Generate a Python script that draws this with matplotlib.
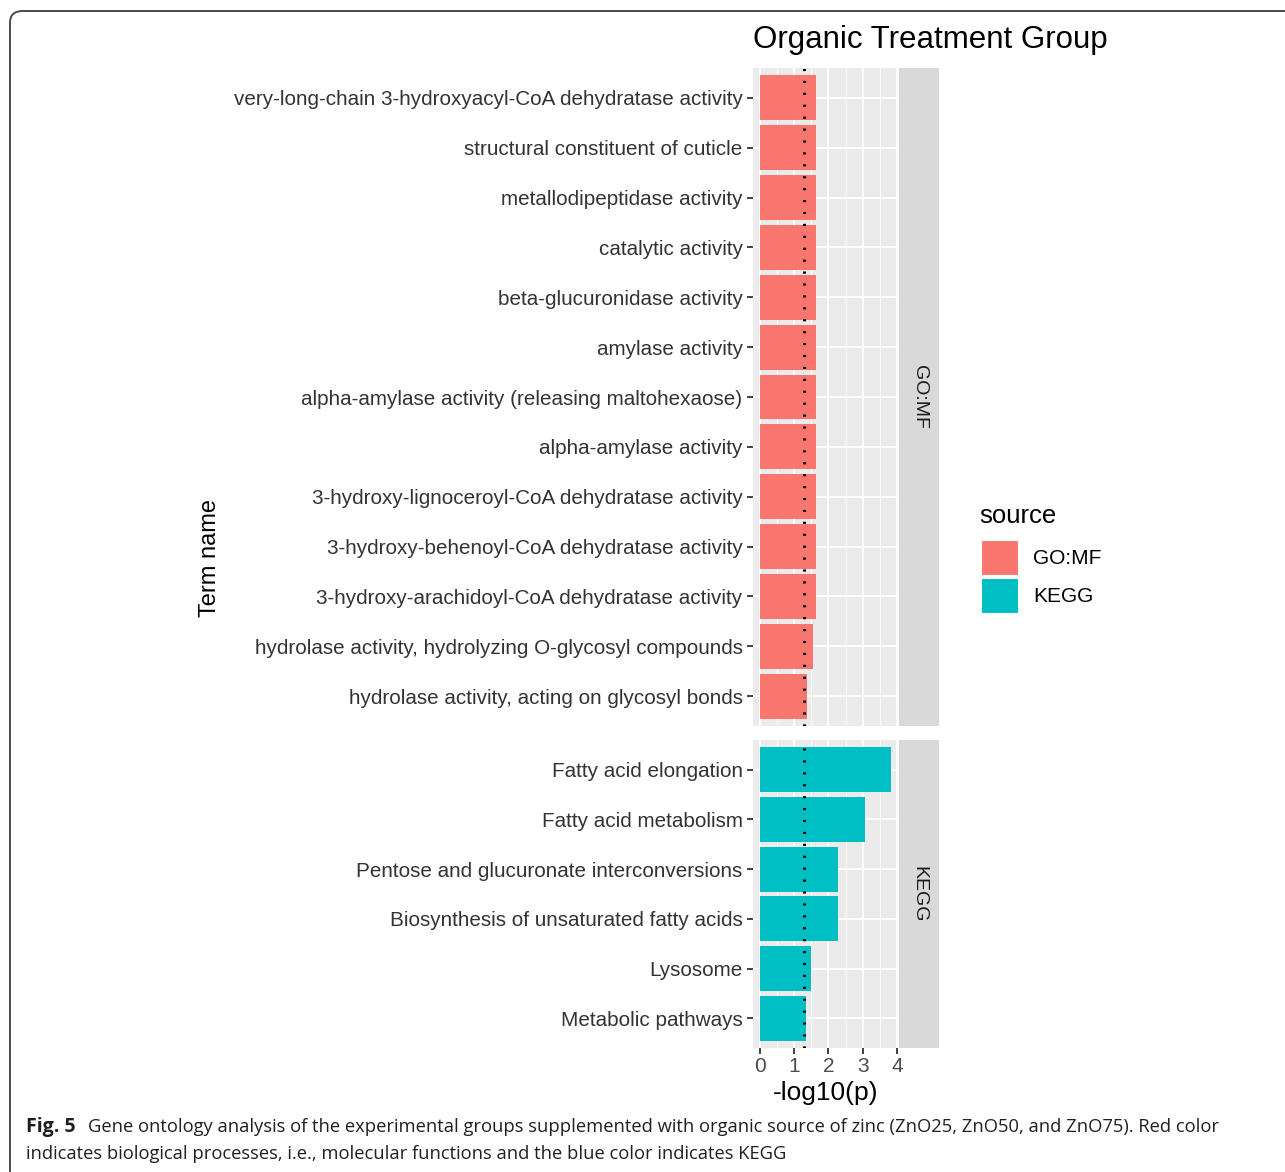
import matplotlib
matplotlib.use('Agg')
import matplotlib.pyplot as plt
from matplotlib.patches import FancyBboxPatch, Rectangle

W, H = 1285, 1172

go_terms = [
    'very-long-chain 3-hydroxyacyl-CoA dehydratase activity',
    'structural constituent of cuticle',
    'metallodipeptidase activity',
    'catalytic activity',
    'beta-glucuronidase activity',
    'amylase activity',
    'alpha-amylase activity (releasing maltohexaose)',
    'alpha-amylase activity',
    '3-hydroxy-lignoceroyl-CoA dehydratase activity',
    '3-hydroxy-behenoyl-CoA dehydratase activity',
    '3-hydroxy-arachidoyl-CoA dehydratase activity',
    'hydrolase activity, hydrolyzing O-glycosyl compounds',
    'hydrolase activity, acting on glycosyl bonds',
]
go_values = [1.64, 1.64, 1.64, 1.64, 1.64, 1.64, 1.64, 1.64, 1.64, 1.64, 1.64, 1.54, 1.39]

kegg_terms = [
    'Fatty acid elongation',
    'Fatty acid metabolism',
    'Pentose and glucuronate interconversions',
    'Biosynthesis of unsaturated fatty acids',
    'Lysosome',
    'Metabolic pathways',
]
kegg_values = [3.83, 3.07, 2.28, 2.28, 1.49, 1.35]

x_ticks = [0, 1, 2, 3, 4]
threshold = 1.301  # -log10(0.05)

GO_COLOR = '#F8766D'
KEGG_COLOR = '#00BFC4'
TEXT = '#333333'
plt.rcParams['font.family'] = ['Liberation Sans', 'DejaVu Sans']


def px_rect(left, top, right, bottom):
    return [left / W, 1 - bottom / H, (right - left) / W, (bottom - top) / H]


def panel(fig, box, terms, values, color, strip_label, show_x):
    ax = fig.add_axes(px_rect(*box))
    ax.set_facecolor('#EBEBEB')
    pos = list(range(len(terms)))
    ax.barh(pos, values, height=0.9, color=color, zorder=3)
    ax.set_ylim(len(terms) - 0.4, -0.6)
    xmax = max(kegg_values + go_values)
    ax.set_xlim(-0.05 * xmax, 1.05 * xmax)
    ax.set_yticks(pos)
    ax.set_yticklabels(terms, fontsize=14.9, color=TEXT)
    ax.set_xticks(x_ticks)
    ax.set_xticks([0.5, 1.5, 2.5, 3.5], minor=True)
    ax.grid(True, which='major', color='white', lw=1.3, zorder=1)
    ax.grid(True, which='minor', axis='x', color='white', lw=0.6, zorder=1)
    ax.tick_params(axis='y', which='major', length=4.5, width=1.3, color=TEXT, pad=3)
    ax.tick_params(axis='y', which='minor', length=0)
    ax.tick_params(axis='x', which='minor', length=0)
    if show_x:
        ax.set_xticklabels([str(t) for t in x_ticks], fontsize=15, color='#4D4D4D')
        ax.tick_params(axis='x', which='major', length=4.5, width=1.3, color=TEXT, pad=2)
    else:
        ax.tick_params(axis='x', which='major', length=0, labelbottom=False)
    for s in ax.spines.values():
        s.set_visible(False)
    ax.axvline(threshold, color='black', lw=2.2, ls=(0, (0.7, 3.2)), zorder=4)

    # facet strip on the right
    sx = fig.add_axes(px_rect(box[2] + 1, box[1], box[2] + 41, box[3]))
    sx.set_facecolor('#D9D9D9')
    sx.set_xticks([])
    sx.set_yticks([])
    for s in sx.spines.values():
        s.set_visible(False)
    sx.text(0.5, 0.5, strip_label, rotation=-90, ha='center', va='center',
            fontsize=14, color='#1A1A1A', transform=sx.transAxes)
    return ax


fig = plt.figure(figsize=(W / 100, H / 100), dpi=100)

# rounded frame around the figure
frame = FancyBboxPatch((10 / W, 1 - 1190 / H), 1300 / W, 1179 / H,
                       boxstyle='round,pad=0,rounding_size=0.01',
                       transform=fig.transFigure, fc='none', ec='#4a4a4a', lw=1.4,
                       clip_on=False)
fig.patches.append(frame)

panel(fig, (753, 68, 898, 726), go_terms, go_values, GO_COLOR, 'GO:MF', False)
ax2 = panel(fig, (753, 740, 898, 1048), kegg_terms, kegg_values, KEGG_COLOR, 'KEGG', True)

fig.text(753 / W, 1 - 40 / H, 'Organic Treatment Group', fontsize=22.5,
         ha='left', va='center', color='black')
fig.text(826 / W, 1 - 1093 / H, '-log10(p)', fontsize=19,
         ha='center', va='center', color='black')
fig.text(210 / W, 1 - 558 / H, 'Term name', fontsize=17, rotation=90,
         ha='center', va='center', color='black')

# legend
fig.text(979 / W, 1 - 516 / H, 'source', fontsize=18.5, ha='left', va='center')
for i, (lab, col) in enumerate([('GO:MF', GO_COLOR), ('KEGG', KEGG_COLOR)]):
    top = 540 + i * 38
    fig.patches.append(Rectangle((981 / W, 1 - (top + 35) / H), 37 / W, 35 / H,
                                 transform=fig.transFigure, fc=col, ec='white', lw=0.8))
    fig.text(1033 / W, 1 - (top + 18) / H, lab, fontsize=15, ha='left', va='center')

# caption
cap_font = ['Open Sans', 'DejaVu Sans']
fig.text(26 / W, 1 - 1127 / H, 'Fig. 5', fontsize=14, fontweight='bold',
         family=cap_font, ha='left', va='center', color='#231F20')
fig.text(88 / W, 1 - 1127 / H,
         'Gene ontology analysis of the experimental groups supplemented with organic source of zinc '
         '(ZnO25, ZnO50, and ZnO75). Red color',
         fontsize=13.2, family=cap_font, ha='left', va='center', color='#231F20')
fig.text(26 / W, 1 - 1154 / H,
         'indicates biological processes, i.e., molecular functions and the blue color indicates KEGG',
         fontsize=13.2, family=cap_font, ha='left', va='center', color='#231F20')

fig.savefig('out.png', dpi=100)
